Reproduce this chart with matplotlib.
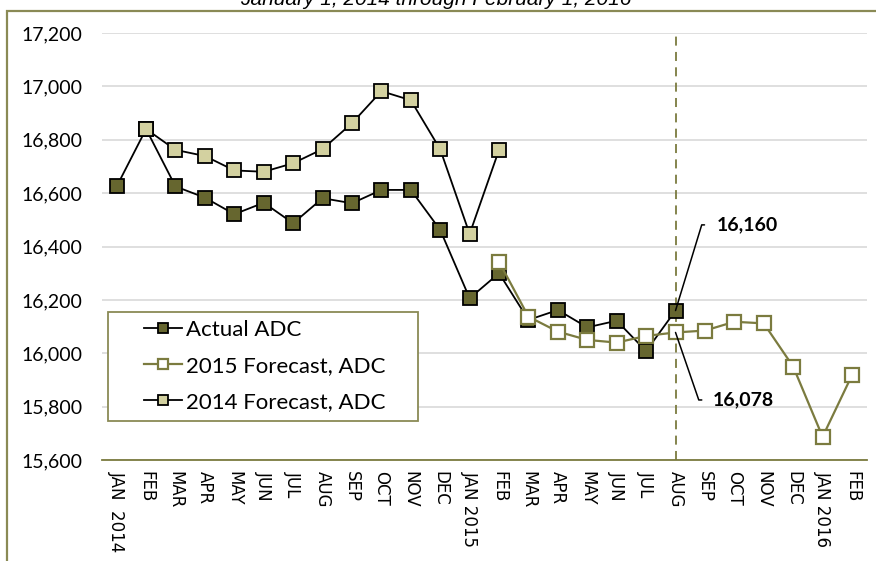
import numpy as np
import matplotlib.pyplot as plt
from matplotlib.patches import Rectangle
from matplotlib.ticker import FuncFormatter

### Données (ADC mensuel)
months = ["JAN  2014", "FEB", "MAR", "APR", "MAY", "JUN", "JUL", "AUG", "SEP", "OCT", "NOV", "DEC",
          "JAN 2015", "FEB", "MAR", "APR", "MAY", "JUN", "JUL", "AUG", "SEP", "OCT", "NOV", "DEC",
          "JAN 2016", "FEB"]

actual = [16625, 16840, 16625, 16583, 16521, 16564, 16487, 16581, 16562, 16612, 16612, 16462,
          16206, 16300, 16125, 16162, 16097, 16122, 16008, 16160]
actual_start = 0

fc2014 = [16840, 16762, 16739, 16685, 16680, 16712, 16765, 16862, 16982, 16948, 16764, 16447, 16762]
fc2014_start = 1

fc2015 = [16343, 16137, 16081, 16050, 16040, 16065, 16078, 16085, 16118, 16112, 15950, 15687, 15918]
fc2015_start = 13

cutoff_month = 19   # AUG 2015
label_actual = "16,160"
label_fc2015 = "16,078"

### Couleurs
dark = "#66662f"
light = "#d3d1a0"
olive = "#7b7b3f"
border = "#8a8a55"

fig = plt.figure(figsize=(8.76, 5.61), dpi=100)
ax = fig.add_axes([0.1164, 0.18, 0.873, 0.7612])

num = "Lato"

x_act = np.arange(actual_start, actual_start + len(actual))
x_14 = np.arange(fc2014_start, fc2014_start + len(fc2014))
x_15 = np.arange(fc2015_start, fc2015_start + len(fc2015))

ms = 10.5
l_act, = ax.plot(x_act, actual, color="black", lw=1.3, marker="s", ms=ms, mfc=dark, mec="black",
                 mew=1.3, zorder=3, label="Actual ADC")
l_15, = ax.plot(x_15, fc2015, color=olive, lw=1.6, marker="s", ms=ms, mfc="white", mec=olive,
                mew=1.6, zorder=4, label="2015 Forecast, ADC")
l_14, = ax.plot(x_14, fc2014, color="black", lw=1.3, marker="s", ms=ms, mfc=light, mec="black",
                mew=1.3, zorder=5, label="2014 Forecast, ADC")

ax.axvline(cutoff_month, color=olive, ls=(0, (5, 3.5)), lw=1.3, zorder=2)

### Étiquettes des valeurs au mois de coupure
ax.annotate(label_actual, xy=(cutoff_month, actual[cutoff_month - actual_start]),
            xytext=(20.41, 16481), ha="left", va="center", fontsize=14, fontweight="bold",
            family=num,
            arrowprops=dict(arrowstyle="-", color="black", lw=1.1, shrinkA=7, shrinkB=0,
                            connectionstyle="angle,angleA=0,angleB=73,rad=0"), zorder=6)
ax.annotate(label_fc2015, xy=(cutoff_month, fc2015[cutoff_month - fc2015_start]),
            xytext=(20.27, 15825), ha="left", va="center", fontsize=14, fontweight="bold",
            family=num,
            arrowprops=dict(arrowstyle="-", color="black", lw=1.1, shrinkA=6, shrinkB=0,
                            connectionstyle="angle,angleA=0,angleB=-71,rad=0"), zorder=6)

### Axes
ax.set_xlim(-0.5, len(months) - 0.5)
ax.set_ylim(15600, 17200)
ax.set_yticks(np.arange(15600, 17201, 200))
ax.yaxis.set_major_formatter(FuncFormatter(lambda v, p: "{:,.0f}".format(v)))
ax.set_xticks(np.arange(len(months)))
ax.set_xticklabels(months, rotation=270, fontsize=12, family="DejaVu Sans", va="top", ha="center")
for lab in ax.get_yticklabels():
    lab.set_family(num)
    lab.set_fontsize(14)
ax.tick_params(axis="both", length=0)
ax.tick_params(axis="y", pad=14)
ax.tick_params(axis="x", pad=8)

ax.grid(axis="y", color="#d9d9d9", lw=1.2, zorder=0)
ax.set_axisbelow(True)
for s in ["top", "right", "left"]:
    ax.spines[s].set_visible(False)
ax.spines["bottom"].set_color(olive)
ax.spines["bottom"].set_linewidth(1.3)

### Légende (cadre dessiné à part pour garder la marge gauche)
ax.add_patch(Rectangle((0.0078, 0.0913), 0.4054, 0.2553, transform=ax.transAxes,
                       facecolor="white", edgecolor=border, lw=1.3, zorder=7))
leg = ax.legend(handles=[l_act, l_15, l_14], loc="center left", bbox_to_anchor=(0.0549, 0.2201),
                frameon=False, markerscale=0.69, handlelength=1.7, handletextpad=0.2,
                labelspacing=0.72, borderpad=0.0, borderaxespad=0.0,
                prop={"family": num, "size": 16})
leg.set_zorder(8)

### Cadre et titre (coupés en haut, comme dans l'original)
fig.patches.append(Rectangle((7 / 876, -0.1), 1.2, 1.1 - 11 / 561, transform=fig.transFigure,
                             fill=False, edgecolor=border, lw=1.6))
fig.text(0.497, 1 - 5 / 561, "January 1, 2014 through February 1, 2016", ha="center",
         va="baseline", fontsize=15, style="italic", family="Liberation Sans")

fig.savefig("out.png", dpi=100)
